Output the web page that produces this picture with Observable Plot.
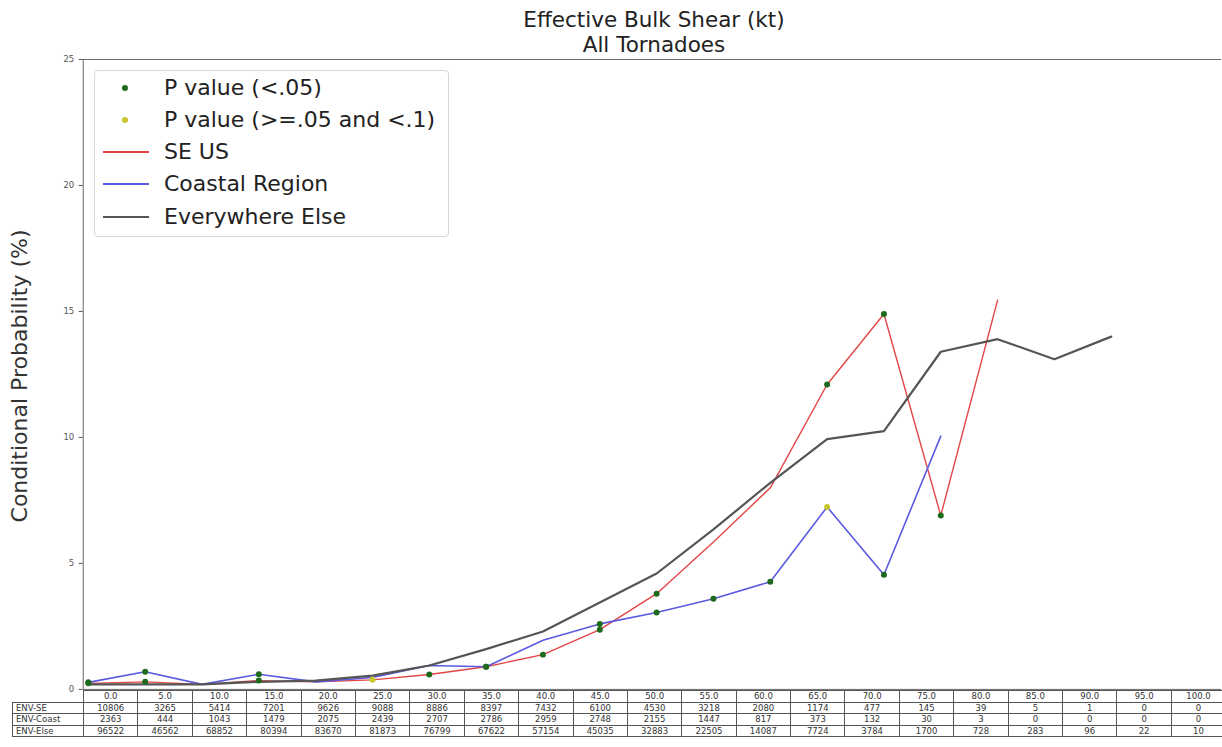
<!DOCTYPE html>
<html>
<head>
<meta charset="utf-8">
<script src="https://cdn.jsdelivr.net/npm/d3@7"></script>
<script src="https://cdn.jsdelivr.net/npm/@observablehq/plot@0.6"></script>
<style>
  html, body { margin: 0; padding: 0; background: #fff; }
  #page { position: relative; width: 1222px; height: 747px; overflow: hidden; font-family: "DejaVu Sans", sans-serif; color: #222; }
  #title { position: absolute; left: 83px; width: 1142px; top: 7px; text-align: center; font-size: 21.5px; line-height: 25px; color: #222; }
  #chart { position: absolute; left: 0; top: 50px; }
  #chart svg { overflow: visible; }
  #ylabel { position: absolute; left: 19px; top: 376px; transform: translate(-50%, -50%) rotate(-90deg); font-size: 22px; color: #333; white-space: nowrap; }
  #legend { position: absolute; left: 94px; top: 70px; width: 355px; height: 167px; border: 1px solid #d6d6d6; border-radius: 4px; background: rgba(255,255,255,0.85); box-sizing: border-box; }
  .lrow { position: absolute; left: 0; height: 32px; width: 100%; }
  .lrow .sw { position: absolute; top: 50%; }
  .lrow .dot { left: 27px; width: 6px; height: 6px; margin-top: -3px; border-radius: 50%; }
  .lrow .ln { left: 8px; width: 46px; }
  .lrow .tx { position: absolute; left: 69px; top: 50%; transform: translateY(-52%); font-size: 22px; color: #222; white-space: nowrap; }
  #tbl { position: absolute; left: 12px; top: 690px; border-collapse: collapse; table-layout: fixed; font-size: 8.5px; color: #333; }
  #tbl td { border: 1px solid #555; text-align: center; padding: 0; height: 10.5px; line-height: 10px; overflow: hidden; white-space: nowrap; }
  #tbl td.rl { text-align: left; padding-left: 3px; }
  #tbl td.blank { border: none; }
</style>
</head>
<body>
<div id="page">
  <div id="title">Effective Bulk Shear (kt)<br>All Tornadoes</div>
  <div id="chart"></div>
  <div id="ylabel">Conditional Probability (%)</div>
  <div id="legend"></div>
  <table id="tbl"></table>
</div>
<script>
// Shear bins (kt) used as table column headers
const binLabels = ["0.0","5.0","10.0","15.0","20.0","25.0","30.0","35.0","40.0","45.0","50.0",
                   "55.0","60.0","65.0","70.0","75.0","80.0","85.0","90.0","95.0","100.0"];
const binValues = [0,5,10,15,20,25,30,35,40,45,50,55,60,65,70,75,80,85,90,95,100];

// Conditional probability of a tornado (%) per bin, by region
const seProb    = [0.24,0.30,0.20,0.35,0.30,0.38,0.59,0.90,1.38,2.37,3.80,5.85,8.00,12.10,14.90,6.90,15.45];
const coastProb = [0.28,0.70,0.20,0.60,0.30,0.47,0.95,0.90,1.95,2.60,3.05,3.60,4.27,7.24,4.55,10.05];
const elseProb  = [0.20,0.20,0.20,0.30,0.35,0.55,0.95,1.60,2.30,3.45,4.60,6.35,8.20,9.93,10.25,13.40,13.90,13.10,14.00];

// Significance of the regional difference: "g" = p < .05, "y" = .05 <= p < .1
const seSig    = ["g","g",null,"g",null,"y","g","g","g","g","g",null,null,"g","g","g",null];
const coastSig = ["g","g",null,"g",null,null,null,"g",null,"g","g","g","g","y","g",null];

// Environment counts per bin
const rowLabels = ["ENV-SE","ENV-Coast","ENV-Else"];
const envSE    = [10806,3265,5414,7201,9626,9088,8886,8397,7432,6100,4530,3218,2080,1174,477,145,39,5,1,0,0];
const envCoast = [2363,444,1043,1479,2075,2439,2707,2786,2959,2748,2155,1447,817,373,132,30,3,0,0,0,0];
const envElse  = [96522,46562,68852,80394,83670,81873,76799,67622,57154,45035,32883,22505,14087,7724,3784,1700,728,283,96,22,10];

const seriesNames = ["SE US","Coastal Region","Everywhere Else"];
const seriesColors = ["#e34545","#5a5ae0","#555555"];
const seriesWidths = [1.4, 1.6, 2.2];
const sigLabels = ["P value (<.05)","P value (>=.05 and <.1)"];
const sigColors = {g: "#1d6a1d", y: "#c8c62c"};

const toRows = (vals, name) => vals.map((v, i) => ({x: binValues[i], y: v, series: name}));
const lineData = [
  toRows(seProb, seriesNames[0]),
  toRows(coastProb, seriesNames[1]),
  toRows(elseProb, seriesNames[2])
];
const dotData = [
  ...seProb.map((v, i) => ({x: binValues[i], y: v, sig: seSig[i]})),
  ...coastProb.map((v, i) => ({x: binValues[i], y: v, sig: coastSig[i]}))
].filter(d => d.sig);

const xLeft = -0.45;
const chart = Plot.plot({
  width: 1226,
  height: 651,
  marginLeft: 83,
  marginRight: 1,
  marginTop: 9,
  marginBottom: 10,
  style: {fontFamily: "DejaVu Sans, sans-serif", background: "transparent"},
  x: {domain: [xLeft, 99.7], axis: null},
  y: {domain: [0, 25]},
  marks: [
    Plot.ruleY([25], {stroke: "#666", strokeWidth: 1}),
    Plot.ruleX([xLeft], {stroke: "#666", strokeWidth: 1}),
    Plot.ruleY([0], {stroke: "#666", strokeWidth: 1}),
    Plot.axisY({ticks: [0,5,10,15,20,25], tickFormat: d => String(d), tickSize: 4, tickPadding: 5,
                fontSize: 8.5, color: "#555", label: null}),
    ...lineData.map((rows, k) => Plot.line(rows, {
      x: "x", y: "y", stroke: seriesColors[k], strokeWidth: seriesWidths[k]
    })),
    Plot.dot(dotData, {x: "x", y: "y", r: 3, fill: d => sigColors[d.sig], stroke: "none"})
  ]
});
document.getElementById("chart").appendChild(chart);

// Legend
const legend = document.getElementById("legend");
const legendItems = [
  {type: "dot", color: sigColors.g, label: sigLabels[0]},
  {type: "dot", color: sigColors.y, label: sigLabels[1]},
  ...seriesNames.map((n, k) => ({type: "line", color: seriesColors[k], width: seriesWidths[k] + 0.4, label: n}))
];
const rowTops = [1, 33, 65, 97, 130];
legendItems.forEach((it, i) => {
  const row = document.createElement("div");
  row.className = "lrow";
  row.style.top = rowTops[i] + "px";
  const sw = document.createElement("span");
  if (it.type === "dot") {
    sw.className = "sw dot";
    sw.style.background = it.color;
  } else {
    sw.className = "sw ln";
    sw.style.background = it.color;
    sw.style.height = it.width + "px";
    sw.style.marginTop = (-it.width / 2) + "px";
  }
  const tx = document.createElement("span");
  tx.className = "tx";
  tx.textContent = it.label;
  row.appendChild(sw);
  row.appendChild(tx);
  legend.appendChild(row);
});

// Count table under the axis
const tbl = document.getElementById("tbl");
const colgroup = document.createElement("colgroup");
const c0 = document.createElement("col"); c0.style.width = "71px"; colgroup.appendChild(c0);
binLabels.forEach(() => { const c = document.createElement("col"); c.style.width = "54.4px"; colgroup.appendChild(c); });
tbl.appendChild(colgroup);
tbl.style.width = (71 + 54.4 * binLabels.length) + "px";

const head = document.createElement("tr");
const blank = document.createElement("td"); blank.className = "blank"; head.appendChild(blank);
binLabels.forEach(l => { const td = document.createElement("td"); td.textContent = l; head.appendChild(td); });
tbl.appendChild(head);
[envSE, envCoast, envElse].forEach((vals, r) => {
  const tr = document.createElement("tr");
  const th = document.createElement("td"); th.className = "rl"; th.textContent = rowLabels[r]; tr.appendChild(th);
  vals.forEach(v => { const td = document.createElement("td"); td.textContent = String(v); tr.appendChild(td); });
  tbl.appendChild(tr);
});
</script>
</body>
</html>
